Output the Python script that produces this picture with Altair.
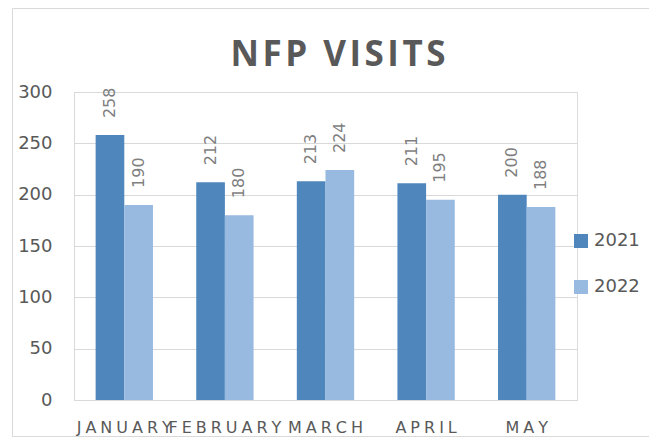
import altair as alt
import pandas as pd

months = ["JANUARY", "FEBRUARY", "MARCH", "APRIL", "MAY"]
years = ["2021", "2022"]
v2021 = [258, 212, 213, 211, 200]
v2022 = [190, 180, 224, 195, 188]
title_text = "NFP VISITS"
y_ticks = [0, 50, 100, 150, 200, 250, 300]
colors = ["#4F87BD", "#98B9E0"]

rows = []
for m, a, b in zip(months, v2021, v2022):
    rows.append({"month": m, "year": years[0], "value": a})
    rows.append({"month": m, "year": years[1], "value": b})
df = pd.DataFrame(rows)

GRID = "#d9d9d9"
TXT = "#595959"

x_enc = alt.X(
    "month:N",
    sort=months,
    scale=alt.Scale(paddingInner=0.43, paddingOuter=0.215),
    axis=alt.Axis(
        title=None, grid=False, ticks=False, tickSize=0, labelAngle=0,
        domainColor=GRID, labelColor=TXT, labelFont="DejaVu Sans", labelFontSize=16,
        labelPadding=32, labelBaseline="alphabetic", labelOverlap=False,
        labelExpr="join(split(datum.label, ''), '\u2005')",
    ),
)
y_enc = alt.Y(
    "value:Q",
    scale=alt.Scale(domain=[0, 300], nice=False),
    axis=alt.Axis(
        title=None, values=y_ticks, grid=True, gridColor=GRID, ticks=False, tickSize=0,
        domainColor=GRID, labelColor=TXT, labelFont="DejaVu Sans", labelFontSize=18,
        labelPadding=22,
    ),
)
xo = alt.XOffset("year:N", sort=years, scale=alt.Scale(paddingInner=0, paddingOuter=0))

base = alt.Chart(df)

bars = base.mark_bar().encode(
    x=x_enc,
    xOffset=xo,
    y=y_enc,
    color=alt.Color(
        "year:N",
        scale=alt.Scale(domain=years, range=colors),
        legend=alt.Legend(
            orient="none", legendX=498, legendY=140, title=None, symbolType="square",
            symbolSize=196, symbolStrokeWidth=0, symbolOpacity=1, labelFontSize=18,
            labelFont="DejaVu Sans", labelColor=TXT, labelOffset=4, rowPadding=28, padding=0,
        ),
    ),
)

labels = base.mark_text(
    angle=270, align="left", baseline="middle", dx=17, fontSize=16,
    font="DejaVu Sans", color="#7f7f7f",
).encode(x=x_enc, xOffset=xo, y=y_enc, text="value:Q")

title = (
    alt.Chart(pd.DataFrame({"t": [title_text]}))
    .transform_calculate(tt="join(split(datum.t, ''), '\u200a')")
    .mark_text(font="Open Sans", fontWeight="bold", fontSize=35, color=TXT,
               align="center", baseline="alphabetic")
    .encode(x=alt.value(264), y=alt.value(-26), text="tt:N")
)

border = (
    alt.Chart(pd.DataFrame({"b": [0]}))
    .mark_rect(filled=False, stroke=GRID, strokeWidth=1)
    .encode(x=alt.value(-61.5), x2=alt.value(600), y=alt.value(-83.5), y2=alt.value(344.5))
)

chart = (
    alt.layer(border, bars, labels, title)
    .properties(
        width=503, height=308,
        autosize=alt.AutoSizeParams(type="none"),
        padding={"left": 66, "top": 84, "right": 72, "bottom": 37},
    )
    .configure_view(stroke=None)
    .configure(background="white")
)

chart.save("out.html", embed_options={"renderer": "svg", "actions": False})
